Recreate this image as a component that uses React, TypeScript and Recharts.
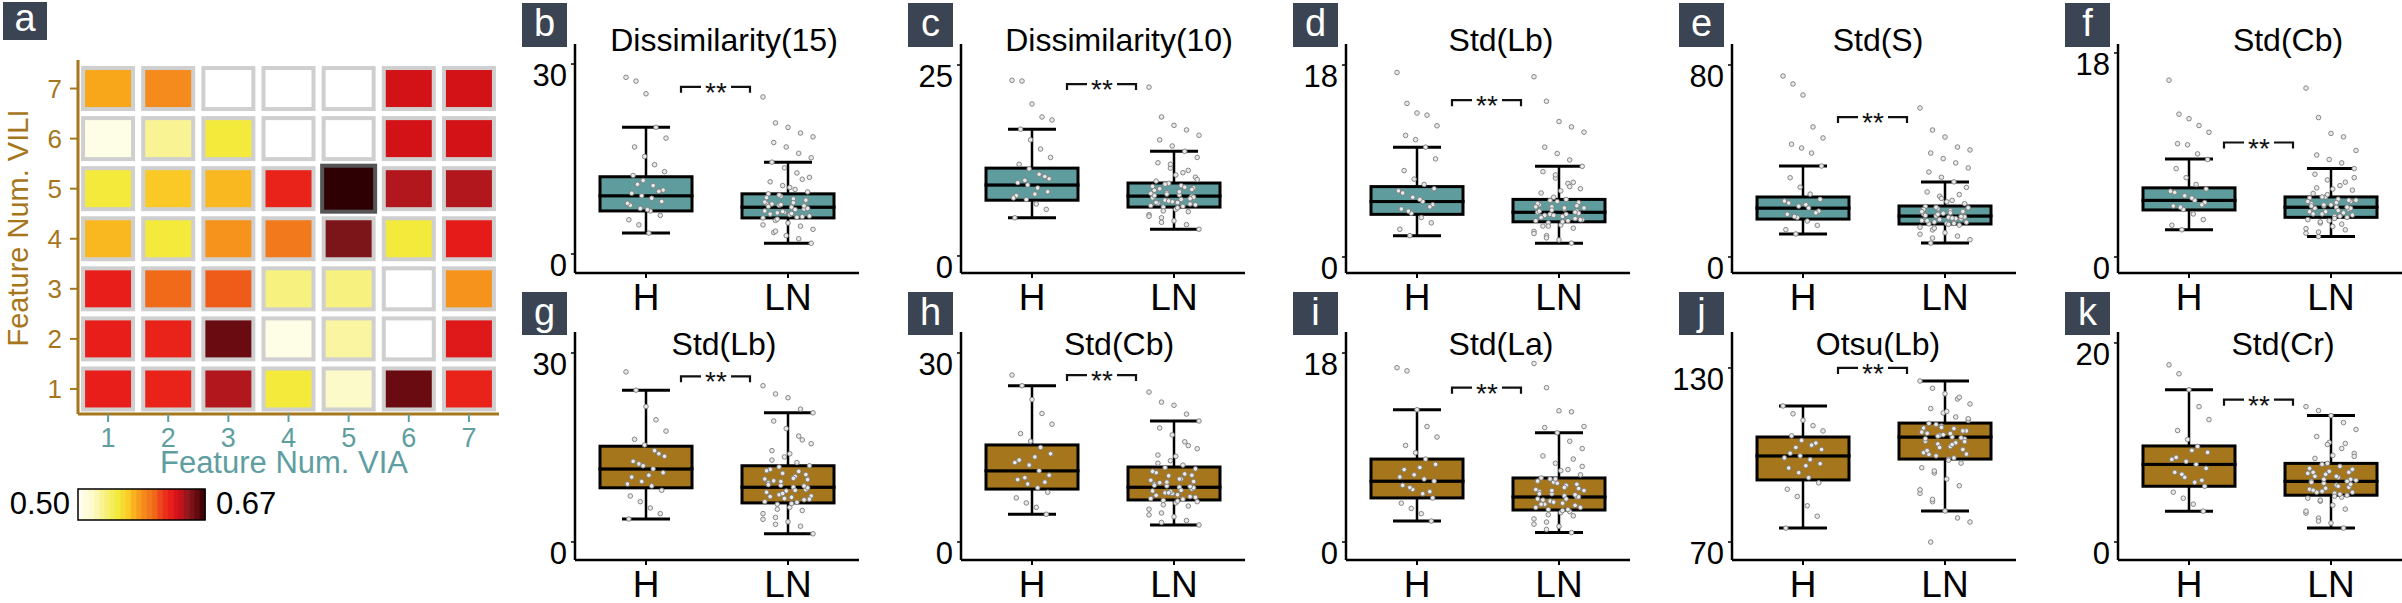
import React from "react";
import { ComposedChart, ScatterChart, Bar, Scatter, XAxis, YAxis } from "recharts";

const FONT = "'Liberation Sans', Arial, Helvetica, sans-serif";
const TEAL = "#5F9C9D";
const GOLD = "#A6761D";
const AXIS_TEAL = "#5F9EA0";
const TAG_BG = "#3B4452";

// ---- panel a: heatmap ----
const viaNums = [1, 2, 3, 4, 5, 6, 7];
const viliNums = [1, 2, 3, 4, 5, 6, 7];
// rows: VILI = 1 .. 7, columns: VIA = 1 .. 7 (null = empty cell)
const heatValues: (number | null)[][] = [
  [0.624, 0.622, 0.641, 0.553, 0.520, 0.658, 0.622],
  [0.624, 0.622, 0.658, 0.507, 0.529, null, 0.628],
  [0.624, 0.602, 0.605, 0.536, 0.536, null, 0.585],
  [0.573, 0.553, 0.585, 0.595, 0.651, 0.553, 0.626],
  [0.553, 0.568, 0.573, 0.622, 0.670, 0.641, 0.641],
  [0.507, 0.532, 0.553, null, null, 0.633, 0.633],
  [0.578, 0.588, null, null, null, 0.633, 0.633],
];
const heatRange = [0.5, 0.67];
const heatStops: [number, string][] = [
  [0, "#FFFFF4"], [0.12, "#FDFAC8"], [0.22, "#F7F07A"], [0.31, "#F3EB3C"],
  [0.4, "#FBC926"], [0.46, "#F9A61A"], [0.52, "#F5891D"], [0.6, "#F06A1A"],
  [0.66, "#EC3C1B"], [0.73, "#E81E1A"], [0.78, "#D41217"], [0.83, "#B2171E"],
  [0.89, "#7A1519"], [0.93, "#6A0B12"], [1, "#2E0003"],
];

// ---- panels b-k: box plots ----
const groups = ["H", "LN"];
const letters = ["b", "c", "d", "e", "f", "g", "h", "i", "j", "k"];
const titles = [
  "Dissimilarity(15)", "Dissimilarity(10)", "Std(Lb)", "Std(S)", "Std(Cb)",
  "Std(Lb)", "Std(Cb)", "Std(La)", "Otsu(Lb)", "Std(Cr)",
];
const yTicks = [[0, 30], [0, 25], [0, 18], [0, 80], [0, 18], [0, 30], [0, 30], [0, 18], [70, 130], [0, 20]];
// [lower whisker, Q1, median, Q3, upper whisker]
const boxH = [
  [3.3, 6.8, 9.2, 12.2, 20.0], [5.0, 7.3, 9.3, 11.5, 16.6], [2.0, 4.0, 5.2, 6.6, 10.3],
  [9.6, 15.8, 20.4, 25.0, 37.9], [2.4, 4.15, 5.0, 6.1, 8.65], [3.65, 8.6, 11.6, 15.2, 24.1],
  [4.4, 8.4, 11.3, 15.4, 24.8], [2.0, 4.2, 5.8, 7.9, 12.6], [74.8, 91.4, 99.7, 106.2, 116.9],
  [3.1, 5.6, 7.8, 9.65, 15.3],
];
const boxLN = [
  [1.7, 5.7, 7.4, 9.5, 14.5], [3.5, 6.4, 7.85, 9.55, 13.7], [1.3, 3.3, 4.2, 5.4, 8.5],
  [5.8, 13.75, 17.1, 21.25, 31.3], [1.8, 3.5, 4.4, 5.3, 7.8], [1.3, 6.2, 8.7, 12.1, 20.5],
  [2.7, 6.67, 8.7, 11.9, 19.2], [0.9, 3.05, 4.3, 6.1, 10.4], [80.7, 98.6, 106.2, 111.0, 125.5],
  [1.4, 4.7, 6.1, 7.9, 12.7],
];
const pointsH = [
  [27.9, 27.3, 25.3, 20.0, 18.3, 16.9, 15.4, 14.1, 13.0, 12.4, 11.6, 10.8, 10.1, 9.6, 9.2, 8.8, 8.3, 7.7, 7.2, 6.8, 6.1, 5.4, 4.6, 3.3, 9.9, 8.0, 11.0, 7.0],
  [23.0, 22.9, 19.9, 18.2, 17.8, 16.6, 15.2, 14.0, 12.9, 12.0, 11.4, 10.7, 10.1, 9.6, 9.3, 8.9, 8.4, 7.9, 7.4, 6.8, 6.1, 5.0, 9.9, 8.1, 10.4, 7.6],
  [17.3, 14.4, 13.5, 13.3, 12.3, 11.4, 11.0, 10.3, 9.2, 8.1, 7.3, 6.8, 6.4, 6.0, 5.6, 5.2, 4.9, 4.5, 4.1, 3.7, 3.2, 2.6, 2.0, 5.4, 4.7, 6.2, 4.3],
  [75.4, 72.1, 67.5, 54.2, 49.6, 47.0, 45.4, 43.3, 37.9, 33.0, 29.1, 26.2, 24.0, 22.5, 21.2, 20.4, 19.1, 17.8, 16.5, 15.0, 13.2, 11.4, 9.6, 21.8, 18.4, 23.3, 16.9],
  [15.6, 12.6, 12.2, 11.6, 11.0, 10.0, 9.9, 9.1, 8.6, 7.8, 7.0, 6.4, 6.0, 5.7, 5.4, 5.0, 4.8, 4.5, 4.2, 3.8, 3.3, 2.8, 2.4, 5.2, 4.6, 5.8, 4.4],
  [27.0, 24.1, 21.5, 19.4, 17.6, 16.3, 15.4, 14.5, 13.6, 12.8, 12.1, 11.6, 11.0, 10.3, 9.6, 8.9, 8.2, 7.3, 6.4, 5.4, 4.5, 3.65, 12.4, 10.6, 14.0, 9.2],
  [26.5, 24.8, 22.6, 20.4, 18.7, 17.2, 16.0, 15.0, 14.0, 13.0, 12.2, 11.3, 10.6, 9.9, 9.2, 8.6, 7.9, 7.0, 6.2, 5.5, 4.4, 12.6, 10.2, 13.5, 9.5],
  [16.6, 16.3, 12.6, 11.0, 10.0, 9.2, 8.5, 7.9, 7.4, 6.9, 6.4, 6.0, 5.8, 5.4, 5.0, 4.6, 4.2, 3.7, 3.2, 2.7, 2.0, 6.2, 5.2, 7.1, 4.8],
  [116.9, 114.2, 112.0, 110.1, 108.3, 106.6, 105.0, 103.4, 101.9, 100.6, 99.7, 98.4, 97.0, 95.5, 93.9, 92.2, 90.4, 88.2, 85.7, 82.5, 78.9, 74.8, 102.6, 96.3, 104.1, 99.0],
  [17.8, 16.9, 15.3, 13.6, 12.3, 11.2, 10.3, 9.6, 9.0, 8.5, 8.1, 7.8, 7.4, 7.0, 6.5, 6.0, 5.6, 5.0, 4.4, 3.8, 3.1, 8.3, 6.8, 9.2, 6.2],
];
const pointsLN = [
  [24.8, 20.7, 20.0, 19.1, 18.5, 17.6, 16.9, 15.9, 15.2, 14.5, 13.6, 12.8, 12.1, 11.4, 10.8, 10.2, 9.8, 9.5, 9.1, 8.7, 8.4, 8.0, 7.7, 7.4, 7.1, 6.8, 6.5, 6.2, 5.9, 5.7, 5.3, 4.9, 4.4, 3.9, 3.4, 2.9, 2.4, 1.7, 7.9, 6.6,
    5.8, 6.0, 6.3, 6.7, 7.0, 7.2, 7.5, 7.8, 8.1, 8.5, 8.9, 9.3, 6.4, 7.6, 8.2, 5.5, 10.5, 11.8, 4.6, 3.6],
  [22.1, 18.2, 17.1, 16.5, 15.8, 15.2, 14.4, 13.7, 12.9, 12.2, 11.5, 10.9, 10.3, 9.8, 9.5, 9.2, 8.9, 8.6, 8.3, 8.0, 7.8, 7.6, 7.3, 7.0, 6.8, 6.6, 6.4, 6.1, 5.8, 5.4, 5.0, 4.6, 4.1, 3.5, 8.8, 7.1, 9.0, 10.0, 6.9, 12.0,
    6.5, 6.7, 7.0, 7.2, 7.4, 7.7, 7.9, 8.1, 8.4, 8.7, 9.1, 9.4, 6.3, 7.5, 8.2, 5.9, 10.6, 11.2, 5.2, 4.4],
  [16.9, 14.6, 12.7, 12.2, 11.7, 10.3, 9.7, 9.1, 8.5, 8.0, 7.4, 6.9, 6.4, 6.0, 5.6, 5.4, 5.1, 4.9, 4.7, 4.5, 4.3, 4.2, 4.0, 3.8, 3.6, 3.4, 3.2, 3.0, 2.7, 2.4, 2.0, 1.6, 1.3, 4.6, 3.9, 5.2, 6.6, 3.5, 2.9, 7.7,
    3.4, 3.5, 3.7, 3.9, 4.0, 4.1, 4.3, 4.4, 4.6, 4.8, 5.0, 5.3, 3.3, 4.2, 4.7, 2.9, 6.2, 7.0, 2.2, 1.8],
  [62.1, 52.9, 50.0, 45.8, 44.6, 43.3, 41.0, 39.2, 37.1, 35.4, 33.2, 31.3, 29.0, 27.1, 25.3, 23.6, 22.2, 21.0, 20.1, 19.3, 18.6, 17.9, 17.1, 16.5, 15.9, 15.2, 14.6, 14.0, 13.3, 12.4, 11.3, 10.1, 8.7, 7.2, 5.8, 18.2, 16.0, 20.5, 13.8, 24.4,
    14.0, 14.5, 15.1, 15.6, 16.2, 16.7, 17.3, 17.8, 18.4, 19.0, 19.8, 20.7, 13.6, 16.9, 18.9, 12.0, 23.0, 26.0, 9.5, 7.9],
  [14.9, 12.3, 10.9, 10.6, 9.4, 9.0, 8.6, 8.3, 7.8, 7.3, 6.8, 6.3, 5.9, 5.6, 5.3, 5.1, 4.9, 4.7, 4.5, 4.4, 4.2, 4.0, 3.8, 3.6, 3.5, 3.3, 3.0, 2.7, 2.4, 2.1, 1.8, 4.6, 3.9, 5.0, 6.1, 3.2, 2.9, 7.0, 4.3, 5.5,
    3.6, 3.7, 3.8, 4.0, 4.1, 4.3, 4.5, 4.6, 4.8, 5.0, 5.2, 5.3, 3.4, 4.4, 4.9, 3.1, 6.0, 6.6, 2.5, 2.2],
  [24.8, 23.5, 22.9, 21.1, 20.5, 19.2, 18.0, 16.8, 15.6, 14.5, 13.5, 12.6, 12.1, 11.5, 10.9, 10.4, 9.9, 9.4, 9.0, 8.7, 8.3, 7.9, 7.5, 7.1, 6.7, 6.4, 6.0, 5.5, 5.0, 4.5, 3.9, 3.2, 2.5, 1.3, 9.7, 8.1, 11.2, 7.3, 13.0, 6.9,
    6.3, 6.8, 7.2, 7.7, 8.2, 8.6, 9.1, 9.6, 10.1, 10.7, 11.3, 11.9, 6.1, 8.9, 10.0, 5.2, 14.0, 16.2, 3.6, 2.8],
  [23.8, 22.2, 21.7, 20.3, 19.2, 18.1, 17.0, 15.9, 14.8, 13.8, 12.9, 12.2, 11.6, 11.0, 10.5, 10.0, 9.6, 9.2, 8.9, 8.7, 8.4, 8.1, 7.8, 7.5, 7.2, 6.9, 6.6, 6.2, 5.7, 5.2, 4.6, 4.0, 3.4, 2.7, 9.4, 7.7, 10.8, 6.4, 12.5, 8.0,
    6.8, 7.1, 7.4, 7.8, 8.2, 8.6, 9.0, 9.5, 10.0, 10.6, 11.2, 11.8, 6.5, 8.8, 9.8, 5.9, 13.6, 15.3, 4.3, 3.1],
  [17.0, 14.7, 12.5, 12.4, 11.0, 10.9, 10.4, 9.6, 8.9, 8.2, 7.5, 6.9, 6.4, 6.1, 5.7, 5.4, 5.1, 4.8, 4.6, 4.4, 4.3, 4.1, 3.9, 3.7, 3.5, 3.3, 3.1, 2.8, 2.5, 2.2, 1.9, 1.5, 0.9, 4.9, 3.6, 5.6, 2.9, 7.2, 4.0, 6.0,
    3.1, 3.3, 3.6, 3.8, 4.1, 4.3, 4.6, 4.9, 5.2, 5.5, 5.8, 6.0, 3.0, 4.5, 5.0, 2.6, 6.8, 7.9, 1.7, 1.2],
  [125.5, 123.0, 121.1, 119.3, 117.6, 116.0, 114.5, 113.1, 111.9, 110.9, 110.0, 109.1, 108.3, 107.5, 106.8, 106.2, 105.5, 104.7, 103.8, 102.9, 101.9, 100.8, 99.7, 98.6, 97.2, 95.6, 93.8, 91.7, 89.4, 86.8, 83.9, 80.7, 78.3, 76.9, 70.0, 107.0, 104.2, 112.5, 100.2, 109.5,
    99.0, 100.3, 101.5, 102.6, 103.6, 104.6, 105.6, 106.5, 107.4, 108.3, 109.3, 110.5, 98.2, 105.9, 107.9, 94.5, 115.0, 119.9, 88.0, 84.7],
  [13.6, 13.2, 12.7, 12.0, 11.3, 10.6, 10.0, 9.4, 8.9, 8.4, 7.9, 7.6, 7.3, 7.0, 6.8, 6.5, 6.3, 6.1, 5.9, 5.7, 5.5, 5.3, 5.1, 4.9, 4.7, 4.4, 4.1, 3.7, 3.3, 2.9, 2.4, 1.9, 1.4, 6.2, 5.0, 7.1, 4.5, 8.6, 6.6, 9.8,
    4.8, 5.0, 5.2, 5.4, 5.6, 5.8, 6.0, 6.3, 6.6, 7.0, 7.4, 7.8, 4.6, 6.1, 6.9, 4.2, 8.7, 9.9, 3.1, 2.1],
];
// height of the "**" bracket
const starLevel = [26.4, 22.5, 14.7, 58.3, 10.1, 26.3, 26.5, 14.7, 130, 14.3];

// ---- layout ----
const panelX = [522, 908, 1293, 1679, 2065];
const yDomains: [number, number][] = [
  [-3.0, 33.16], [-2.23, 27.75], [-1.5, 19.97], [-6.67, 88.75], [-1.41, 18.79],
  [-2.86, 33.33], [-2.86, 33.33], [-1.71, 20], [63.8, 142.4], [-1.81, 21.1],
];
const titleDx = [202, 211, 208, 199, 223, 202, 211, 208, 199, 218];

function hexToRgb(h: string) {
  return [1, 3, 5].map((i) => parseInt(h.slice(i, i + 2), 16));
}
function heatColor(v: number | null) {
  if (v == null) return "#FFFFFF";
  const t = Math.max(0, Math.min(1, (v - heatRange[0]) / (heatRange[1] - heatRange[0])));
  for (let k = 1; k < heatStops.length; k++) {
    const [t1, c1] = heatStops[k];
    const [t0, c0] = heatStops[k - 1];
    if (t <= t1) {
      const f = (t - t0) / (t1 - t0);
      const a = hexToRgb(c0), b = hexToRgb(c1);
      const m = a.map((x, i) => Math.round(x + (b[i] - x) * f));
      return `rgb(${m[0]},${m[1]},${m[2]})`;
    }
  }
  return heatStops[heatStops.length - 1][1];
}

const maxHeat = Math.max(...heatValues.flat().filter((v): v is number => v != null));

const heatCells = viliNums.flatMap((y, r) => viaNums.map((x, c) => ({ x, y, v: heatValues[r][c] })));

function HeatCell(props: any) {
  const { cx, cy, payload } = props;
  const hi = payload.v === maxHeat;
  const w = hi ? 53 : 50, h = hi ? 46 : 41;
  return (
    <rect x={cx - w / 2} y={cy - h / 2} width={w} height={h} fill={heatColor(payload.v)}
      stroke={hi ? "#555555" : "#CFCFCF"} strokeWidth={4} />
  );
}

function Heatmap() {
  return (
    <div style={{ position: "absolute", left: 0, top: 0 }}>
      <ScatterChart width={520} height={480} margin={{ top: 60, right: 21, bottom: 0, left: 0 }}>
        <XAxis xAxisId="top" orientation="top" type="number" domain={[0.5, 7.5]} height={0}
          tick={false} tickLine={false} axisLine={{ stroke: "#000", strokeWidth: 2 }} />
        <YAxis yAxisId="right" orientation="right" type="number" domain={[0.5, 7.5]} width={0}
          tick={false} tickLine={false} axisLine={{ stroke: "#000", strokeWidth: 2 }} />
        <XAxis dataKey="x" type="number" domain={[0.5, 7.5]} ticks={viaNums} allowDataOverflow height={66}
          axisLine={{ stroke: GOLD, strokeWidth: 3 }} tickLine={{ stroke: AXIS_TEAL, strokeWidth: 2 }}
          tickSize={8} tickMargin={0}
          tick={(p: any) => (
            <text x={p.x} y={p.y + 25} textAnchor="middle" fontSize={27} fontFamily={FONT} fill={AXIS_TEAL}>
              {p.payload.value}
            </text>
          )} />
        <YAxis dataKey="y" type="number" domain={[0.5, 7.57]} ticks={viliNums} allowDataOverflow width={78}
          axisLine={{ stroke: GOLD, strokeWidth: 3 }} tickLine={{ stroke: GOLD, strokeWidth: 2 }}
          tickSize={8} tickMargin={0}
          tick={(p: any) => (
            <text x={p.x - 8} y={p.y + 9} textAnchor="end" fontSize={26} fontFamily={FONT} fill={GOLD}>
              {p.payload.value}
            </text>
          )} />
        <Scatter data={heatCells} shape={HeatCell} isAnimationActive={false} />
      </ScatterChart>
    </div>
  );
}

function EmptyShape() {
  return <g />;
}
function LowWhisker(p: any) {
  const c = p.x + p.width / 2;
  return (
    <g>
      <line x1={c} x2={c} y1={p.y} y2={p.y + p.height} stroke="#000" strokeWidth={2.5} />
      <line x1={c - 24} x2={c + 24} y1={p.y + p.height} y2={p.y + p.height} stroke="#000" strokeWidth={3} />
    </g>
  );
}
function HighWhisker(p: any) {
  const c = p.x + p.width / 2;
  return (
    <g>
      <line x1={c} x2={c} y1={p.y} y2={p.y + p.height} stroke="#000" strokeWidth={2.5} />
      <line x1={c - 24} x2={c + 24} y1={p.y} y2={p.y} stroke="#000" strokeWidth={3} />
    </g>
  );
}
function jitterDot(p: any) {
  const k = p.payload.i;
  const spread = p.payload.cat === "H" ? 20 : 25;
  const dx = ((((k * 7) % 29) - 14) / 14) * spread;
  return <circle cx={p.cx + dx} cy={p.cy} r={2.3} fill="#E9E9E9" stroke="#7C7C7C" strokeWidth={0.9} />;
}
function StarBracket(p: any) {
  const x1 = p.cx + 35, x2 = p.cx + 104, m = p.cx + 70, y = p.cy;
  return (
    <g stroke="#111" strokeWidth={2.2} fill="none">
      <polyline points={`${x1},${y + 6} ${x1},${y} ${m - 15},${y}`} />
      <polyline points={`${m + 15},${y} ${x2},${y} ${x2},${y + 6}`} />
      <text x={m} y={y + 15} textAnchor="middle" fontSize={28} fontFamily={FONT} fill="#111" stroke="none">**</text>
    </g>
  );
}

function BoxPanel({ idx }: { idx: number }) {
  const row = idx < 5 ? 0 : 1;
  const left = panelX[idx % 5] - 25;
  const top = row === 0 ? 0 : 288;
  const height = row === 0 ? 320 : 315;
  const xAxisH = row === 0 ? 47 : 43;
  const fill = row === 0 ? TEAL : GOLD;
  const boxRows = groups.map((g, k) => {
    const s = k === 0 ? boxH[idx] : boxLN[idx];
    return { cat: g, base: s[0], lowW: s[1] - s[0], lowBox: s[2] - s[1], highBox: s[3] - s[2], highW: s[4] - s[3] };
  });
  const pts = [
    ...pointsH[idx].map((v, i) => ({ cat: "H", v, i })),
    ...pointsLN[idx].map((v, i) => ({ cat: "LN", v, i })),
  ];
  const bracket = [{ cat: "H", v: starLevel[idx] }];
  const boxShape = (p: any) => (
    <rect x={p.x} y={p.y} width={p.width} height={p.height} fill={fill} stroke="#000" strokeWidth={3} />
  );
  return (
    <div style={{ position: "absolute", left, top }}>
      <ComposedChart width={370} height={height} data={boxRows} margin={{ top: 44, right: 8, bottom: 0, left: 25 }}>
        <XAxis dataKey="cat" type="category" allowDuplicatedCategory={false} height={xAxisH} interval={0}
          axisLine={{ stroke: "#000", strokeWidth: 2.5 }} tickLine={{ stroke: "#000", strokeWidth: 2 }}
          tickSize={5} tickMargin={0}
          tick={(p: any) => (
            <text x={p.x} y={p.y + 32} textAnchor="middle" fontSize={37} fontFamily={FONT} fill="#000">
              {p.payload.value}
            </text>
          )} />
        <YAxis type="number" domain={yDomains[idx]} ticks={yTicks[idx]} allowDataOverflow width={53}
          axisLine={{ stroke: "#000", strokeWidth: 2.5 }} tickLine={{ stroke: "#000", strokeWidth: 1.5 }}
          tickSize={4} tickMargin={0}
          tick={(p: any) => (
            <text x={p.x - 4} y={p.y + 22} textAnchor="end" fontSize={31} fontFamily={FONT} fill="#000">
              {p.payload.value}
            </text>
          )} />
        <Bar dataKey="base" stackId="s" barSize={92} shape={EmptyShape} isAnimationActive={false} />
        <Bar dataKey="lowW" stackId="s" barSize={92} shape={LowWhisker} isAnimationActive={false} />
        <Bar dataKey="lowBox" stackId="s" barSize={92} shape={boxShape} isAnimationActive={false} />
        <Bar dataKey="highBox" stackId="s" barSize={92} shape={boxShape} isAnimationActive={false} />
        <Bar dataKey="highW" stackId="s" barSize={92} shape={HighWhisker} isAnimationActive={false} />
        <Scatter data={pts} dataKey="v" shape={jitterDot} isAnimationActive={false} />
        <Scatter data={bracket} dataKey="v" shape={StarBracket} isAnimationActive={false} />
      </ComposedChart>
    </div>
  );
}

function Overlay() {
  const steps = Array.from({ length: 24 }, (_, k) => k);
  return (
    <svg width={2402} height={603} style={{ position: "absolute", left: 0, top: 0, pointerEvents: "none" }}
      fontFamily={FONT}>
      <rect x={3} y={2} width={44} height={38} fill={TAG_BG} />
      <text x={25} y={31} textAnchor="middle" fontSize={38} fill="#fff">a</text>
      <text transform="translate(28,228) rotate(-90)" textAnchor="middle" fontSize={29} fill={GOLD}>
        Feature Num. VILI
      </text>
      <text x={284} y={473} textAnchor="middle" fontSize={31} fill={AXIS_TEAL}>Feature Num. VIA</text>
      {steps.map((k) => (
        <rect key={k} x={78 + (k * 127) / 24} y={489} width={127 / 24 + 0.6} height={31}
          fill={heatColor(heatRange[0] + ((k + 0.5) / 24) * (heatRange[1] - heatRange[0]))} />
      ))}
      <rect x={78} y={489} width={127} height={31} fill="none" stroke="#000" strokeWidth={1.5} />
      <text x={70} y={514} textAnchor="end" fontSize={31} fill="#000">{heatRange[0].toFixed(2)}</text>
      <text x={216} y={514} textAnchor="start" fontSize={31} fill="#000">{heatRange[1].toFixed(2)}</text>
      {letters.map((l, idx) => {
        const row = idx < 5 ? 0 : 1;
        const L = panelX[idx % 5];
        const by = row === 0 ? 3 : 292;
        const bh = row === 0 ? 44 : 43;
        return (
          <g key={l}>
            <rect x={L} y={by} width={45} height={bh} fill={TAG_BG} />
            <text x={L + 22.5} y={by + 33} textAnchor="middle" fontSize={38} fill="#fff">{l}</text>
            <text x={L + titleDx[idx]} y={row === 0 ? 51 : 355} textAnchor="middle" fontSize={32} fill="#000">
              {titles[idx]}
            </text>
          </g>
        );
      })}
    </svg>
  );
}

export default function App() {
  return (
    <div style={{ position: "absolute", left: 0, top: 0, width: 2402, height: 603, overflow: "hidden", background: "#fff" }}>
      <Heatmap />
      {letters.map((_, idx) => (
        <BoxPanel key={idx} idx={idx} />
      ))}
      <Overlay />
    </div>
  );
}
